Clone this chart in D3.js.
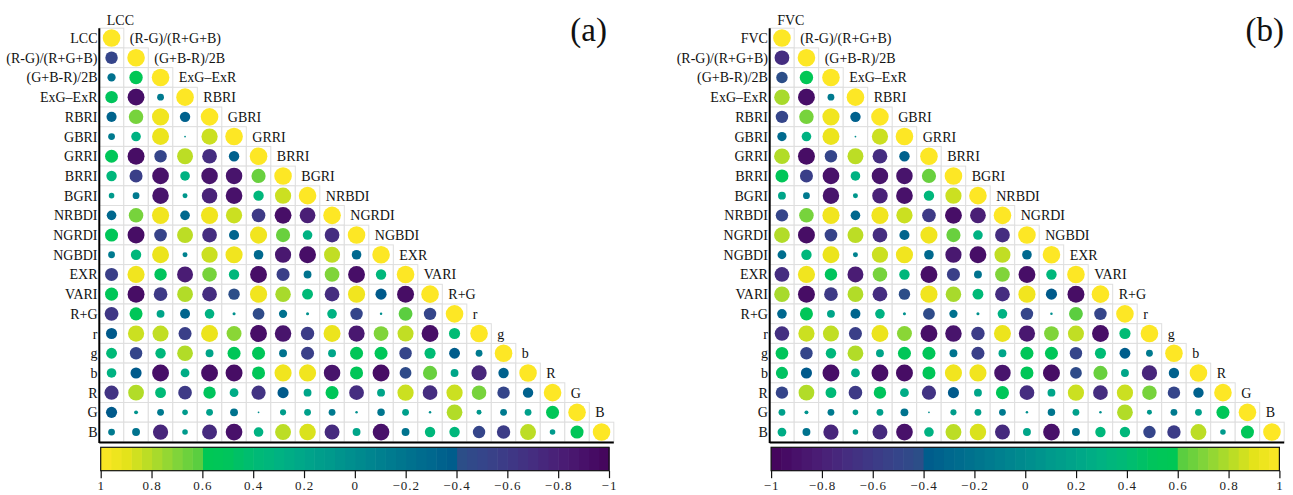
<!DOCTYPE html>
<html>
<head>
<meta charset="utf-8">
<script src="https://cdn.jsdelivr.net/npm/d3@7"></script>
<style>
  html, body { margin: 0; padding: 0; background: #fff; }
  svg { display: block; font-family: "Liberation Serif", "Times New Roman", serif; }
</style>
</head>
<body>
<svg id="chart" width="1293" height="495"></svg>
<script>
// Vegetation / colour indices shared by both panels
const indexNames = ["(R-G)/(R+G+B)", "(G+B-R)/2B", "ExG–ExR", "RBRI", "GBRI", "GRRI", "BRRI", "BGRI",
  "NRBDI", "NGRDI", "NGBDI", "EXR", "VARI", "R+G", "r", "g", "b", "R", "G", "B"];

// Pearson r between the indices (lower triangle, row k holds columns 0..k-1)
const indexCorr = [
  [],
  [0.58],
  [-0.92, -0.15],
  [0.68, 0.95, -0.35],
  [0.30, 0.93, 0.01, 0.85],
  [-0.93, -0.50, 0.82, -0.70, -0.35],
  [-0.55, -0.90, 0.30, -0.88, -0.88, 0.65],
  [-0.15, -0.88, 0.08, -0.78, -0.90, 0.35, 0.85],
  [0.68, 0.95, -0.30, 0.95, 0.85, -0.60, -0.92, -0.80],
  [-0.93, -0.52, 0.82, -0.70, -0.33, 0.95, 0.65, 0.30, -0.70],
  [0.35, 0.93, -0.08, 0.85, 0.95, -0.30, -0.85, -0.92, 0.83, -0.30],
  [0.95, 0.50, -0.82, 0.68, 0.35, -0.92, -0.55, -0.20, 0.70, -0.92, 0.35],
  [-0.93, -0.60, 0.80, -0.70, -0.42, 0.95, 0.78, 0.38, -0.70, 0.95, -0.40, -0.93],
  [0.55, 0.20, -0.32, 0.30, 0.03, -0.45, -0.22, 0.03, 0.30, -0.50, 0.02, 0.62, -0.50],
  [0.85, 0.83, -0.55, 0.93, 0.72, -0.92, -0.88, -0.58, 0.93, -0.85, 0.70, 0.83, -0.92, 0.40],
  [-0.50, 0.35, 0.80, 0.20, 0.55, 0.55, -0.20, -0.55, 0.20, 0.55, 0.55, -0.50, 0.40, -0.38, -0.15],
  [-0.40, -0.92, 0.25, -0.92, -0.93, 0.55, 0.95, 0.95, -0.88, 0.55, -0.93, -0.45, 0.65, 0.20, -0.75, -0.35],
  [0.80, 0.38, -0.60, 0.50, 0.25, -0.65, -0.40, 0.20, 0.55, -0.70, 0.20, 0.85, -0.70, 0.85, 0.68, -0.50, -0.35],
  [0.05, -0.15, 0.10, 0.15, -0.20, 0.01, 0.12, 0.15, -0.15, 0.02, -0.18, 0.15, 0.02, 0.80, 0.08, -0.15, 0.15, 0.55],
  [-0.20, -0.75, 0.10, -0.72, -0.90, 0.30, 0.82, 0.88, -0.72, 0.20, -0.90, -0.20, 0.35, 0.35, -0.50, -0.58, 0.82, 0.10, 0.55]
];

// Correlation of each index with the field measurement
const lccCorr = [-0.50, -0.22, 0.50, -0.33, -0.15, 0.55, 0.35, 0.10, -0.30, 0.55,
  -0.15, -0.55, 0.55, -0.62, -0.40, 0.38, 0.30, -0.65, -0.40, -0.15];
const fvcCorr = [-0.70, -0.42, 0.78, -0.50, -0.28, 0.80, 0.55, 0.20, -0.50, 0.80,
  -0.25, -0.70, 0.78, -0.30, -0.68, 0.52, 0.48, -0.50, 0.15, 0.25];

const colorbarTicks = [-1, -0.8, -0.6, -0.4, -0.2, 0, 0.2, 0.4, 0.6, 0.8, 1];

// Diverging palette (purple → blue → teal → green → yellow)
const colorStops = [-1, -0.9, -0.8, -0.7, -0.6, -0.5, -0.401, -0.4, -0.3, -0.2, -0.1, 0,
  0.1, 0.2, 0.3, 0.4, 0.5, 0.6, 0.601, 0.7, 0.8, 0.9, 1];
const colorValues = ["#44035a", "#48116a", "#4a1f76", "#452d80", "#3e3a86", "#35458a", "#2a5088",
  "#005a8b", "#00688e", "#00738e", "#00808f", "#008c8e", "#009a8c", "#00a589", "#00b282",
  "#00bb74", "#00c45c", "#00c853", "#52cd42", "#80d43a", "#b2dc28", "#e4e31a", "#fde725"];
const color = d3.scaleLinear().domain(colorStops).range(colorValues).interpolate(d3.interpolateRgb).clamp(true);

const svg = d3.select("#chart");
const gridTop = 28.2, cellH = 19.7, cellW = 24.5;
const nVars = 21;

const panels = [
  { left: 99.3, target: "LCC", corr: lccCorr, tag: "(a)", tagX: 607, reverse: true },
  { left: 769.7, target: "FVC", corr: fvcCorr, tag: "(b)", tagX: 1284, reverse: false }
];

const radius = d3.scaleSqrt().domain([0, 1]).range([0, 8.8]);
const fmt = d => d === 0 ? "0" : (Math.abs(d) === 1 ? d3.format("d")(d) : d3.format(".1f")(d));

panels.forEach(p => {
  const names = [p.target].concat(indexNames);
  const x = d3.scaleBand().domain(names).range([p.left, p.left + cellW * nVars]);
  const y = d3.scaleBand().domain(names).range([gridTop, gridTop + cellH * nVars]);
  const gridBottom = gridTop + cellH * nVars;

  const value = (i, j) => {
    if (i === j) return 1;
    if (j === 0) return p.corr[i - 1];
    return indexCorr[i - 1][j - 1];
  };

  const cells = [];
  for (let i = 0; i < nVars; i++) {
    for (let j = 0; j <= i; j++) cells.push({ row: names[i], col: names[j], v: value(i, j) });
  }

  const g = svg.append("g");

  // cell frames
  g.selectAll("rect.cell").data(cells).join("rect")
    .attr("class", "cell")
    .attr("x", d => x(d.col)).attr("y", d => y(d.row))
    .attr("width", x.bandwidth()).attr("height", y.bandwidth())
    .attr("fill", "#fff").attr("stroke", "#dedede").attr("stroke-width", 1);

  // circles: area proportional to |r|
  g.selectAll("circle").data(cells).join("circle")
    .attr("cx", d => x(d.col) + x.bandwidth() / 2)
    .attr("cy", d => y(d.row) + y.bandwidth() / 2)
    .attr("r", d => radius(Math.abs(d.v)))
    .attr("fill", d => color(d.v));

  // axis lines
  g.append("line").attr("x1", p.left).attr("x2", p.left)
    .attr("y1", gridTop).attr("y2", gridBottom + 1)
    .attr("stroke", "#000").attr("stroke-width", 2);
  g.append("line").attr("x1", p.left).attr("x2", p.left + cellW * nVars)
    .attr("y1", gridBottom + 0.5).attr("y2", gridBottom + 0.5)
    .attr("stroke", "#000").attr("stroke-width", 2);

  // row labels
  g.selectAll("text.rowlab").data(names).join("text")
    .attr("class", "rowlab")
    .attr("x", p.left - 1.8)
    .attr("y", d => y(d) + y.bandwidth() / 2 + 5)
    .attr("text-anchor", "end")
    .attr("font-size", 14)
    .attr("fill", "#111")
    .text(d => d);

  // column labels on the stair next to the diagonal
  g.selectAll("text.collab").data(names.slice(1)).join("text")
    .attr("class", "collab")
    .attr("x", (d, k) => x(names[k]) + cellW + 6)
    .attr("y", (d, k) => y(names[k]) + y.bandwidth() / 2 + 5)
    .attr("font-size", 14)
    .attr("fill", "#111")
    .text(d => d);
  g.append("text").attr("x", p.left + 7.5).attr("y", 25)
    .attr("font-size", 14).attr("fill", "#111").text(p.target);

  // panel tag
  g.append("text").attr("x", p.tagX).attr("y", 41)
    .attr("text-anchor", "end").attr("font-size", 33).attr("fill", "#111")
    .text(p.tag);

  // colour bar
  const barLeft = p.left + 1.4, barRight = p.left + 509.7;
  const barTop = 447.3, barBottom = 470.7;
  const cb = d3.scaleLinear().domain(p.reverse ? [1, -1] : [-1, 1]).range([barLeft, barRight]);
  const nBins = 50, step = 2 / nBins;
  const bins = d3.range(nBins).map(k => -1 + k * step);
  g.selectAll("rect.bin").data(bins).join("rect")
    .attr("class", "bin")
    .attr("x", v => Math.min(cb(v), cb(v + step)))
    .attr("y", barTop)
    .attr("width", v => Math.abs(cb(v + step) - cb(v)) + 0.6)
    .attr("height", barBottom - barTop)
    .attr("fill", v => color(v + step / 2));
  g.append("rect").attr("x", barLeft).attr("y", barTop)
    .attr("width", barRight - barLeft).attr("height", barBottom - barTop)
    .attr("fill", "none").attr("stroke", "#111").attr("stroke-width", 1.2);

  const axis = g.append("g").attr("transform", `translate(0,${barBottom})`)
    .call(d3.axisBottom(cb).tickValues(colorbarTicks).tickSize(7.5).tickPadding(3).tickFormat(fmt));
  axis.select(".domain").remove();
  axis.selectAll(".tick line").attr("stroke", "#111").attr("stroke-width", 1.2);
  axis.selectAll(".tick text")
    .attr("font-family", "'Liberation Serif', serif")
    .attr("font-size", 13).attr("letter-spacing", 1).attr("fill", "#222");
});
</script>
</body>
</html>
